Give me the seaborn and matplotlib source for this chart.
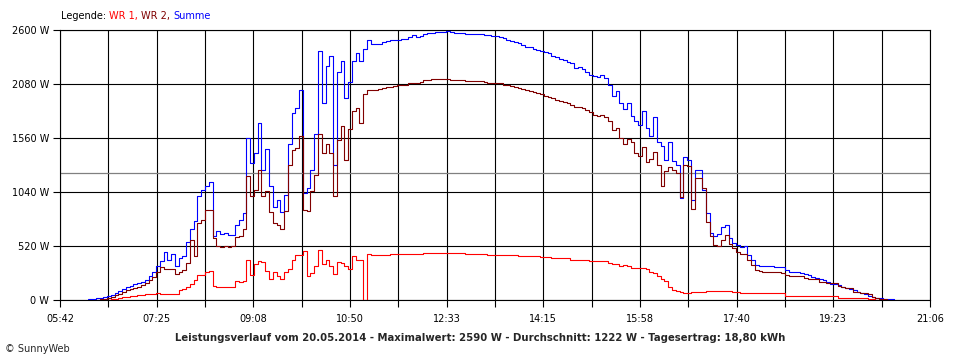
import numpy as np
import pandas as pd
import matplotlib
matplotlib.use("Agg")
import matplotlib.pyplot as plt
import seaborn as sns

# Leistung in W, ein Wert alle 4 Minuten ab 06:08 (None = kein Wert)
summe = [
    None, 5, 10, 15, 20, 28, 35, 50, 70, 90,
    110, 125, 135, 150, 160, 175, 195, 230, 270, 330,
    380, 465, 390, 440, 330, 400, 420, 560, 680, 760,
    1000, 1060, 1100, 1140, 620, 660, 640, 650, 630, 630,
    720, 770, 840, 1560, 1320, 1415, 1700, 1250, 1450, 1100,
    900, 960, 850, 1010, 1500, 1800, 1850, 2025, 1030, 1080,
    1250, 1600, 2400, 1900, 2250, 2350, 1300, 2200, 2300, 1950,
    2100, 2300, 2380, 2300, 2420, 2500, 2470, 2465, 2470, 2488,
    2490, 2500, 2505, 2500, 2514, 2515, 2530, 2550, 2530, 2545,
    2560, 2568, 2575, 2578, 2580, 2585, 2590, 2578, 2575, 2570,
    2568, 2565, 2560, 2562, 2560, 2558, 2555, 2550, 2545, 2540,
    2532, 2520, 2505, 2495, 2485, 2475, 2455, 2440, 2435, 2420,
    2408, 2395, 2390, 2380, 2350, 2340, 2325, 2310, 2295, 2280,
    2230, 2240, 2225, 2200, 2170, 2160, 2150, 2165, 2140, 2074,
    1961, 2010, 1897, 1840, 1900, 1770, 1720, 1690, 1820, 1660,
    1580, 1760, 1520, 1480, 1350, 1520, 1340, 1300, 980, 1380,
    1350, 960, 1250, 1255, 1060, 840, 650, 615, 640, 700,
    725, 600, 546, 530, 515, 520, 430, 385, 340, 330,
    325, 325, 325, 322, 320, 318, 290, 270, 268, 265,
    262, 247, 245, 225, 208, 205, 195, 170, 155, 152,
    140, 125, 115, 110, 100, 75, 70, 60, 40, 25,
    16, 15, 12, 10, 5, 0, None,
]
wr2 = [
    None, None, None, 0, 10, 14, 20, 30, 45, 60,
    80, 95, 105, 120, 130, 140, 160, 190, 225, 270,
    320, 300, 295, 300, 250, 270, 290, 360, 580, 420,
    740, 770, 870, 870, 600, 520, 515, 520, 515, 520,
    610, 620, 680, 1190, 1000, 1060, 1250, 1000, 1050, 850,
    740, 720, 680, 860, 1300, 1440, 1460, 1580, 870, 860,
    1050, 1200, 1600, 1420, 1500, 1420, 1000, 1540, 1680, 1350,
    1650, 1820, 1850, 1700, 1980, 2020, 2025, 2025, 2030, 2040,
    2048, 2050, 2065, 2070, 2072, 2075, 2085, 2093, 2090, 2100,
    2115, 2120, 2125, 2125, 2125, 2128, 2125, 2122, 2118, 2115,
    2115, 2112, 2110, 2110, 2105, 2105, 2100, 2093, 2090, 2090,
    2085, 2075, 2070, 2060, 2050, 2042, 2035, 2020, 2012, 2000,
    1990, 1980, 1965, 1955, 1945, 1930, 1920, 1910, 1895, 1880,
    1855, 1855, 1850, 1830, 1813, 1780, 1770, 1780, 1760, 1720,
    1640, 1660, 1560, 1500, 1550, 1520, 1420, 1390, 1470, 1330,
    1360, 1430, 1300, 1100, 1240, 1280, 1250, 1220, 990, 1300,
    1290, 880, 1175, 1175, 1080, 750, 613, 530, 517, 580,
    629, 540, 497, 460, 440, 440, 390, 340, 290, 275,
    268, 266, 266, 266, 265, 264, 240, 235, 232, 230,
    228, 210, 205, 202, 200, 178, 172, 168, 165, 160,
    135, 122, 118, 115, 80, 75, 72, 70, 55, 30,
    22, 12, 8, 4, 0, None, None,
]
wr1 = [
    None, None, None, None, None, None, 0, 5, 10, 15,
    25, 30, 35, 40, 45, 50, 55, 60, 62, 65,
    60, 58, 60, 60, 62, 95, 110, 125, 150, 195,
    240, 245, 270, 276, 135, 125, 125, 125, 125, 130,
    180, 175, 185, 385, 240, 350, 380, 370, 280, 200,
    270, 230, 200, 270, 300, 390, 436, 436, 470, 230,
    260, 330, 480, 350, 390, 330, 250, 370, 360, 330,
    300, 420, 390, 390, 0, 440, 436, 433, 433, 433,
    433, 443, 443, 443, 443, 443, 443, 443, 443, 443,
    449, 449, 449, 449, 449, 449, 449, 449, 449, 449,
    449, 445, 445, 445, 445, 445, 445, 433, 433, 433,
    433, 433, 433, 433, 433, 424, 424, 424, 424, 424,
    424, 415, 415, 415, 401, 401, 401, 401, 401, 385,
    385, 385, 385, 385, 372, 372, 372, 372, 372, 356,
    350, 345, 330, 335, 325, 310, 305, 308, 310, 300,
    270, 260, 230, 200, 180, 130, 100, 85, 74, 72,
    70, 75, 80, 80, 80, 85, 88, 90, 90, 88,
    85, 85, 80, 80, 64, 64, 64, 64, 64, 64,
    64, 64, 64, 64, 64, 64, 38, 38, 38, 38,
    38, 38, 38, 38, 38, 38, 38, 38, 38, 38,
    22, 22, 22, 22, 22, 22, 22, 18, 10, 5,
    2, 0, None, None, None, None, None,
]

start = "2014-05-20 06:08"
x_labels = ["05:42", "07:25", "09:08", "10:50", "12:33",
            "14:15", "15:58", "17:40", "19:23", "21:06"]
y_ticks = [0, 520, 1040, 1560, 2080, 2600]
durchschnitt = 1222
titel = ("Leistungsverlauf vom 20.05.2014 - Maximalwert: 2590 W - "
         "Durchschnitt: 1222 W - Tagesertrag: 18,80 kWh")

zeit = pd.date_range(start, periods=len(summe), freq="4min")
df = pd.DataFrame({"Minute": zeit.hour * 60 + zeit.minute,
                   "Summe": summe, "WR 2": wr2, "WR 1": wr1})
df = df.melt(id_vars="Minute", var_name="Serie", value_name="Leistung").dropna()

sns.set_style("white")
plt.rcParams["font.family"] = ["DejaVu Sans"]

fig = plt.figure(figsize=(9.6, 3.6), dpi=100)
ax = fig.add_axes([60 / 960, 60 / 360, 870 / 960, 270 / 360])

farben = {"Summe": "#0000ff", "WR 2": "#800000", "WR 1": "#ff0000"}
sns.lineplot(data=df, x="Minute", y="Leistung", hue="Serie",
             hue_order=["Summe", "WR 2", "WR 1"], palette=farben,
             estimator=None, drawstyle="steps-post", linewidth=0.8,
             legend=False, zorder=3, ax=ax)

ax.axhline(durchschnitt, color="#808080", linewidth=0.9, zorder=2)

ax.set_xlim(342, 1266)
ax.set_ylim(0, 2600)
ax.set_xticks(np.linspace(342, 1266, 19))
ax.set_xticklabels([x_labels[i // 2] if i % 2 == 0 else "" for i in range(19)])
ax.set_yticks(y_ticks)
ax.set_yticklabels([f"{v} W" for v in y_ticks])
ax.set_xlabel("")
ax.set_ylabel("")
ax.grid(True, color="black", linewidth=0.8)
ax.set_axisbelow(True)
for s in ax.spines.values():
    s.set_visible(True)
    s.set_color("black")
    s.set_linewidth(0.8)
ax.tick_params(axis="both", direction="out", length=5, width=0.8, color="black",
               labelsize=7, labelcolor="black", bottom=True, left=True)
ax.tick_params(axis="x", pad=5)
ax.tick_params(axis="y", pad=3)

# Legende als farbiger Text oben links
renderer = fig.canvas.get_renderer()
xpos = 61
for teil, farbe in [("Legende:", "black"), ("WR 1,", "#ff0000"),
                    ("WR 2,", "#800000"), ("Summe", "#0000ff")]:
    t = fig.text(xpos / 960, 1 - 16 / 360, teil, color=farbe, fontsize=7,
                 ha="left", va="center")
    xpos = t.get_window_extent(renderer).x1 + 3

fig.text(0.5, 1 - 338 / 360, titel, ha="center", va="center",
         fontsize=7.25, fontweight="bold")
fig.text(5 / 960, 1 - 349 / 360, "© SunnyWeb", ha="left", va="center", fontsize=7)

fig.savefig("out.png", dpi=100)
